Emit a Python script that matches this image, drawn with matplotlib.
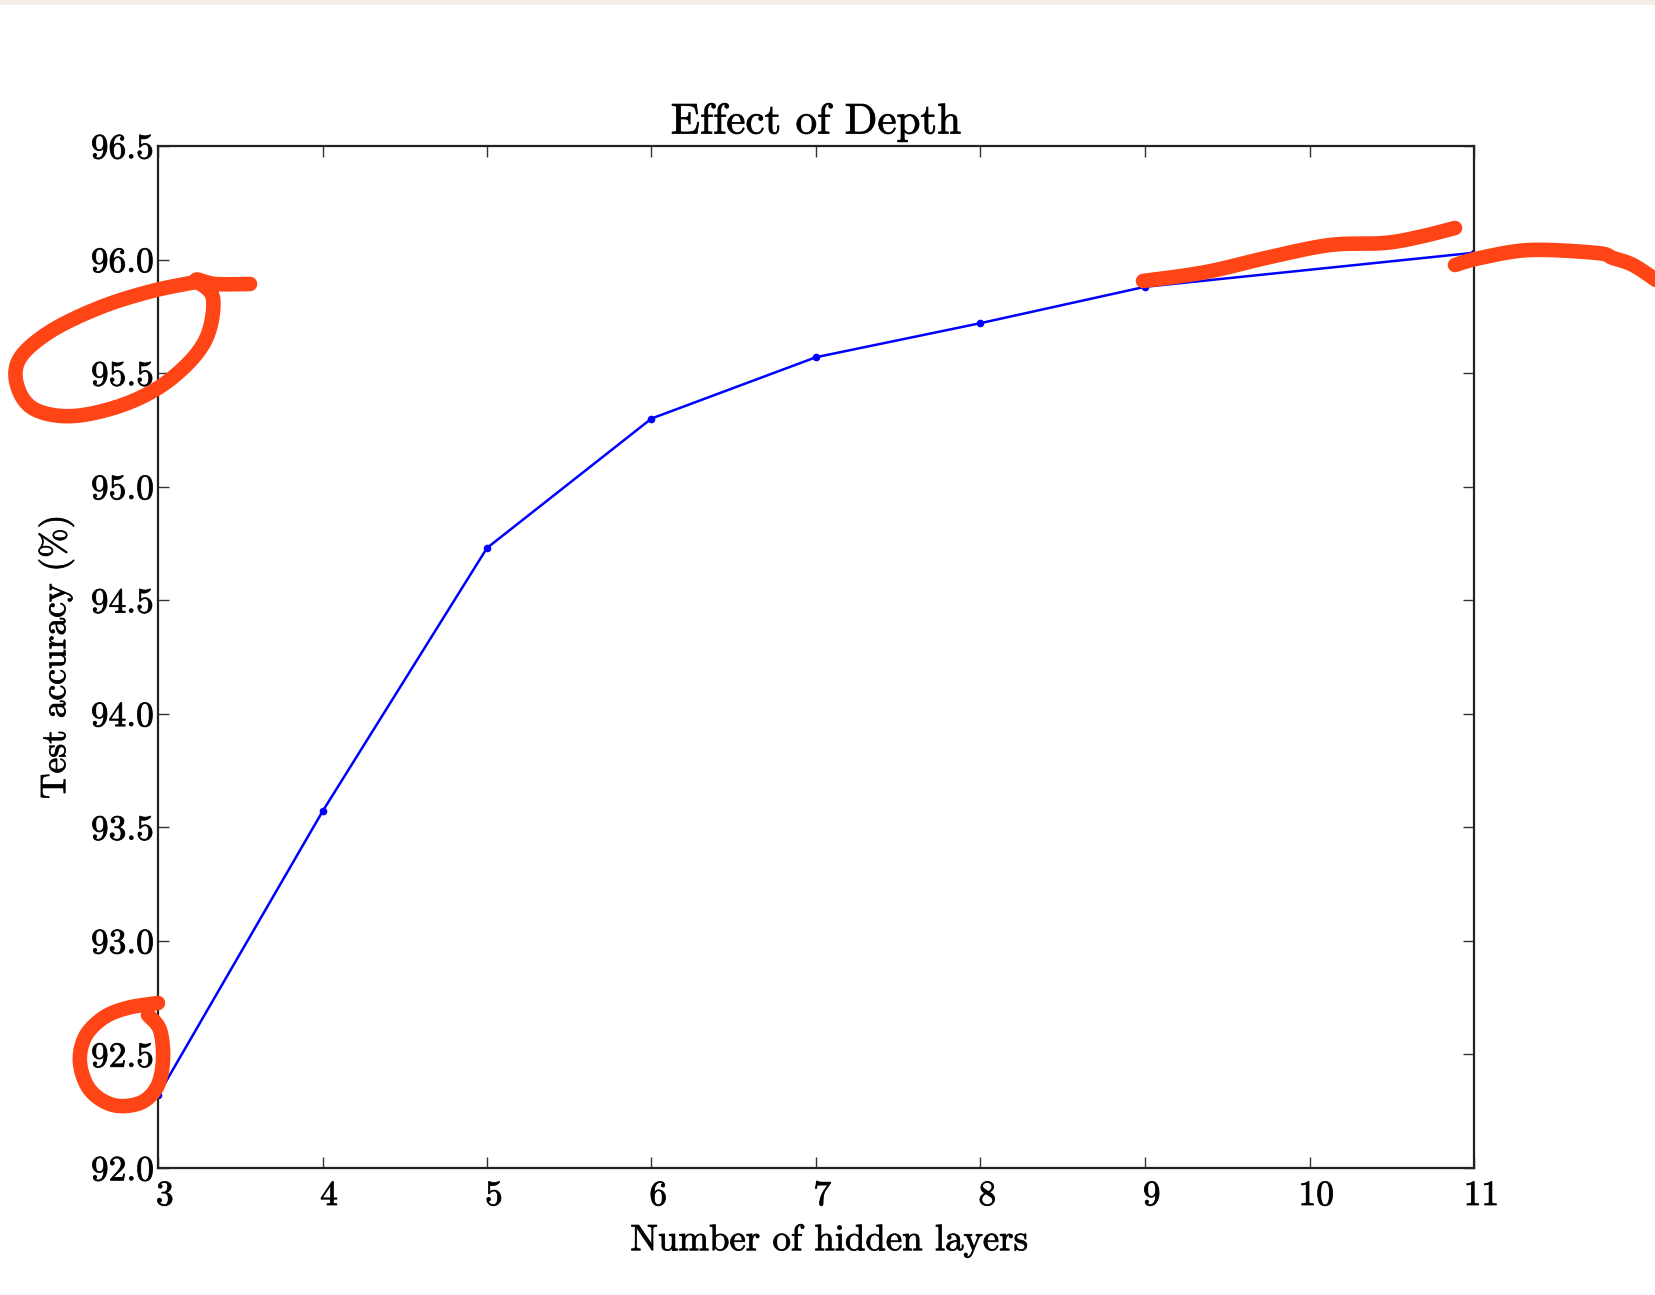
import numpy as np
import matplotlib
matplotlib.use("Agg")
import matplotlib.pyplot as plt
import matplotlib.transforms as mtransforms
import matplotlib.patheffects as pe
from matplotlib.lines import Line2D
from matplotlib.patches import Rectangle

# ------------------------------
# Data
# ------------------------------
hidden_layers = [3, 4, 5, 6, 7, 8, 9, 11]
test_accuracy = [92.32, 93.57, 94.73, 95.30, 95.57, 95.72, 95.88, 96.03]

x_ticks = [3, 4, 5, 6, 7, 8, 9, 10, 11]
y_ticks = [92.0, 92.5, 93.0, 93.5, 94.0, 94.5, 95.0, 95.5, 96.0, 96.5]

TITLE = "Effect of Depth"
X_LABEL = "Number of hidden layers"
Y_LABEL = "Test accuracy (%)"

# hand-drawn red pen strokes on the screenshot (figure pixels, y down)
pen_strokes = [
    [(250, 284), (215, 284), (196, 280), (213, 298), (205, 341), (172, 378),
     (128, 403), (74, 416), (34, 409), (17, 385), (20, 358), (51, 331),
     (101, 307), (152, 291), (196, 282)],
    [(158, 1003), (127, 1008), (103, 1018), (85, 1037), (80, 1063), (90, 1090),
     (113, 1105), (140, 1103), (157, 1087), (163, 1060), (160, 1030), (148, 1015)],
    [(1143, 281), (1206, 272), (1270, 257), (1330, 245), (1384, 243),
     (1419, 237), (1455, 228)],
    [(1455, 265), (1480, 258), (1530, 250), (1597, 253), (1613, 258),
     (1633, 265), (1656, 280)],
]

W, H = 1656, 1295

plt.rcParams['font.family'] = 'serif'
plt.rcParams['font.serif'] = ['cmr10']
plt.rcParams['mathtext.fontset'] = 'cm'
plt.rcParams['axes.formatter.use_mathtext'] = True

# screenshot text is a bit heavier than a clean render
heavy = [pe.withStroke(linewidth=0.6, foreground='#1a1a1a')]


def smooth(pts, n=12):
    # Catmull-Rom through the pen points so strokes look drawn
    p = np.array(pts, dtype=float)
    p = np.vstack([p[0], p, p[-1]])
    out = []
    for i in range(1, len(p) - 2):
        p0, p1, p2, p3 = p[i - 1], p[i], p[i + 1], p[i + 2]
        for t in np.linspace(0, 1, n, endpoint=False):
            t2, t3 = t * t, t * t * t
            out.append(0.5 * ((2 * p1) + (-p0 + p2) * t
                              + (2 * p0 - 5 * p1 + 4 * p2 - p3) * t2
                              + (-p0 + 3 * p1 - 3 * p2 + p3) * t3))
    out.append(p[-2])
    return np.array(out)


fig = plt.figure(figsize=(W / 100, H / 100), dpi=100)
ax = fig.add_axes([158 / W, 1 - 1168 / H, (1474 - 158) / W, (1168 - 146) / H])

ax.plot(hidden_layers, test_accuracy, color='#0000ff', lw=1.8,
        marker='o', markersize=4.5, clip_on=True)

ax.set_xlim(3, 11)
ax.set_ylim(92.0, 96.5)
ax.set_xticks(x_ticks)
ax.set_yticks(y_ticks)
ax.set_yticklabels([f"{v:.1f}" for v in y_ticks])

ax.tick_params(direction='in', top=True, right=True, length=8, width=1,
               labelsize=25.5, color='#333333')
ax.tick_params(axis='x', pad=9)
ax.tick_params(axis='y', pad=3)
for s in ax.spines.values():
    s.set_linewidth(1.6)
    s.set_color('#222222')

# x tick labels sit a little right of their ticks in the original
offset = mtransforms.ScaledTranslation(7 / 100, 0, fig.dpi_scale_trans)
for lab in ax.get_xticklabels():
    lab.set_transform(lab.get_transform() + offset)
for lab in ax.get_xticklabels() + ax.get_yticklabels():
    lab.set_path_effects(heavy)

ax.set_title(TITLE, fontsize=31, pad=9, path_effects=heavy)
ax.set_xlabel(X_LABEL, fontsize=26.5, labelpad=8, path_effects=heavy)
ax.xaxis.label.set_x(0.51)
ax.set_ylabel(Y_LABEL, fontsize=25.5, labelpad=12, path_effects=heavy)

# beige strip at the top of the screenshot
fig.add_artist(Rectangle((0, 1 - 5 / H), 1, 5 / H, transform=fig.transFigure,
                         color='#f2eee7', lw=0))

for stroke in pen_strokes:
    c = smooth(stroke)
    fig.add_artist(Line2D(c[:, 0] / W, 1 - c[:, 1] / H, transform=fig.transFigure,
                          color='#ff4416', lw=10.5, solid_capstyle='round',
                          solid_joinstyle='round'))

fig.savefig("out.png", dpi=100, facecolor='white')
